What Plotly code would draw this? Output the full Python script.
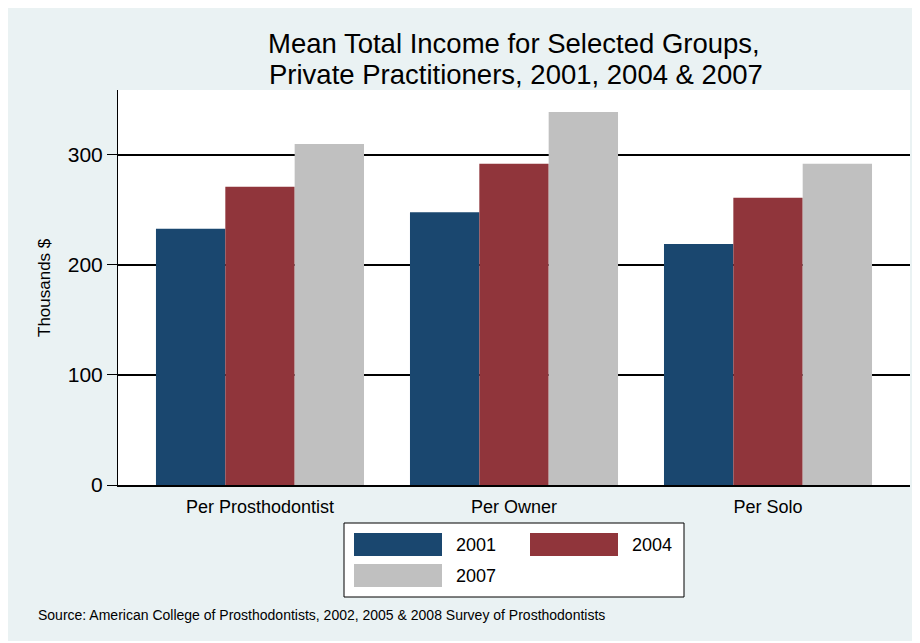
import plotly.graph_objects as go

# ---- data ----
categories = ["Per Prosthodontist", "Per Owner", "Per Solo"]
years = ["2001", "2004", "2007"]
income_2001 = [233, 248, 219]
income_2004 = [271, 292, 261]
income_2007 = [310, 339, 292]
y_ticks = [0, 100, 200, 300]
y_tick_labels = ["0", "100", "200", "300"]

series = [income_2001, income_2004, income_2007]
colors = ["#1A476F", "#90353B", "#C0C0C0"]

title_line1 = "Mean Total Income for Selected Groups,"
title_line2 = "Private Practitioners, 2001, 2004 & 2007"
y_title = "Thousands $"
source_note = "Source: American College of Prosthodontists, 2002, 2005 & 2008 Survey of Prosthodontists"

FONT = "Liberation Sans, Arial, Helvetica, sans-serif"
OFF = 8                      # page body margin
W, H = 912, 633              # figure size
# plot area in page pixels
L, R, T, B = 118, 910, 90, 485


def px(x):
    return (x - L) / (R - L)


def py(y):
    return (B - y) / (B - T)


fig = go.Figure()
for name, vals, col in zip(years, series, colors):
    fig.add_trace(go.Bar(
        x=categories, y=vals, name=name,
        marker=dict(color=col, line=dict(width=0)),
        showlegend=False,
    ))

shapes = []
annotations = []

# title (two lines)
annotations.append(dict(text=title_line1, xref="paper", yref="paper",
                        x=px(514), y=py(43), xanchor="center", yanchor="middle",
                        showarrow=False, font=dict(family=FONT, size=27.5, color="black")))
annotations.append(dict(text=title_line2, xref="paper", yref="paper",
                        x=px(516), y=py(74), xanchor="center", yanchor="middle",
                        showarrow=False, font=dict(family=FONT, size=27.5, color="black")))

# y axis title
annotations.append(dict(text=y_title, xref="paper", yref="paper",
                        x=px(44), y=py(288), xanchor="center", yanchor="middle",
                        textangle=-90, showarrow=False,
                        font=dict(family=FONT, size=17, color="black")))

# source note
annotations.append(dict(text=source_note, xref="paper", yref="paper",
                        x=px(36), y=py(615), xanchor="left", yanchor="middle",
                        showarrow=False, font=dict(family=FONT, size=14, color="black")))

# custom legend
shapes.append(dict(type="rect", xref="paper", yref="paper",
                   x0=px(344), x1=px(684), y0=py(597), y1=py(523),
                   fillcolor="white", line=dict(color="black", width=1)))
legend_slots = [(354, 533), (530, 533), (354, 564)]
for (lx, ly), name, col in zip(legend_slots, years, colors):
    shapes.append(dict(type="rect", xref="paper", yref="paper",
                       x0=px(lx), x1=px(lx + 88), y0=py(ly + 23), y1=py(ly),
                       fillcolor=col, line=dict(width=0)))
    annotations.append(dict(text=name, xref="paper", yref="paper",
                            x=px(lx + 100), y=py(ly + 12), xanchor="left", yanchor="middle",
                            showarrow=False, font=dict(family=FONT, size=18, color="black")))

fig.update_layout(
    width=W, height=H,
    margin=dict(l=L - OFF, r=W - (R - OFF), t=T - OFF, b=H - (B - OFF), pad=0),
    paper_bgcolor="#EAF2F3",
    plot_bgcolor="white",
    barmode="group",
    bargap=0.181,
    bargroupgap=0,
    showlegend=False,
    shapes=shapes,
    annotations=annotations,
    font=dict(family=FONT, color="black"),
)

fig.update_xaxes(
    type="category",
    range=[-0.559, 2.559],
    showline=True, linecolor="black", linewidth=2,
    ticks="", showgrid=False, zeroline=False,
    ticklabelstandoff=4,
    tickfont=dict(family=FONT, size=18, color="black"),
)

fig.update_yaxes(
    range=[0, 359],
    tickvals=y_ticks, ticktext=y_tick_labels,
    ticks="outside", ticklen=10, tickwidth=1, tickcolor="black",
    showline=True, linecolor="black", linewidth=1,
    showgrid=True, gridcolor="black", gridwidth=2,
    zeroline=False,
    tickfont=dict(family=FONT, size=21, color="black"),
)

fig.write_html("out.html")
